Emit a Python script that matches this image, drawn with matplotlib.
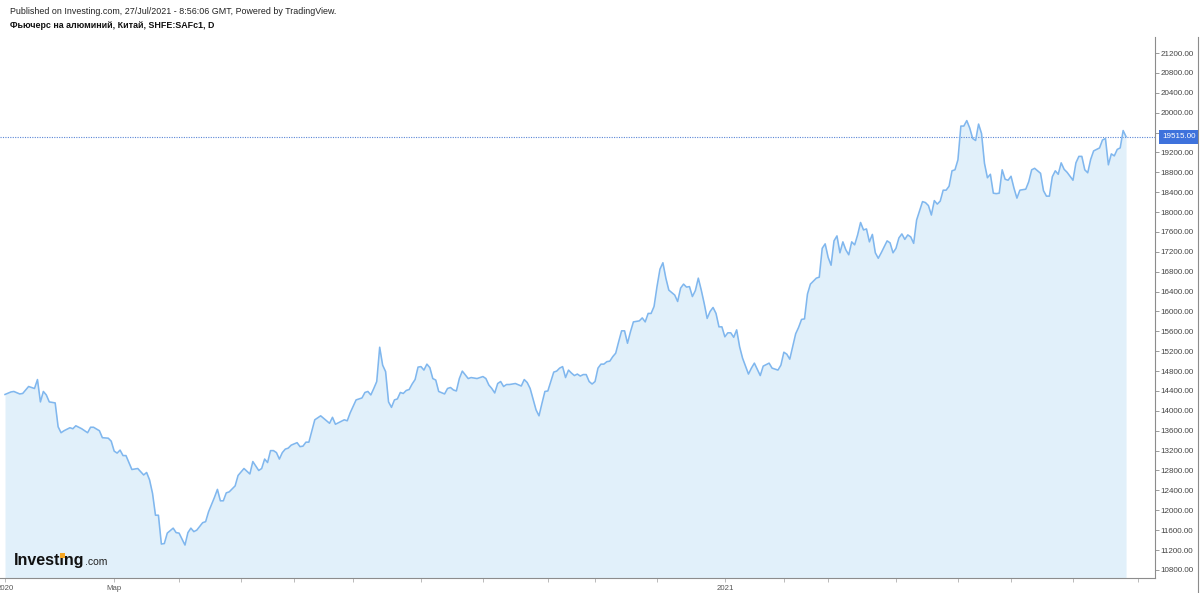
import numpy as np
import matplotlib
matplotlib.use("Agg")
import matplotlib.pyplot as plt
from matplotlib.lines import Line2D
from matplotlib.patches import Rectangle
from matplotlib.transforms import blended_transform_factory

plt.rcParams['font.family'] = ['Liberation Sans', 'DejaVu Sans']

# ---------------- data ----------------
header = "Published on Investing.com, 27/Jul/2021 - 8:56:06 GMT, Powered by TradingView."
title = "Фьючерс на алюминий, Китай, SHFE:SAFc1, D"

first_session = '2020-01-02'   # session 0
holidays = ['2020-01-01', '2020-01-24', '2020-01-27', '2020-01-28', '2020-01-29',
            '2020-01-30', '2020-01-31', '2020-04-06', '2020-05-01', '2020-05-04',
            '2020-05-05', '2020-06-25', '2020-06-26', '2020-10-01', '2020-10-02',
            '2020-10-05', '2020-10-06', '2020-10-07', '2020-10-08', '2021-01-01',
            '2021-02-11', '2021-02-12', '2021-02-15', '2021-02-16', '2021-02-17',
            '2021-04-05', '2021-05-03', '2021-05-04', '2021-05-05', '2021-06-14']

# trading-session number (since 2 Jan 2020) and close price
session = [-1, 1, 2, 4, 5, 7, 9, 10, 11, 12, 13, 14, 16, 17, 18, 19, 21, 22, 23, 25,
           27, 28, 29, 31, 32, 34, 35, 36, 37, 38, 39, 40, 42, 44, 46, 47, 48, 49, 50, 51,
           52, 53, 54, 56, 57, 58, 60, 61, 62, 63, 64, 66, 67, 68, 70, 71, 72, 73, 74, 75,
           77, 78, 80, 82, 83, 85, 86, 87, 88, 89, 90, 91, 92, 93, 94, 95, 96, 98, 99, 100,
           101, 102, 104, 106, 109, 110, 111, 114, 115, 116, 118, 120, 121, 122, 123, 124, 125, 126, 127, 128,
           129, 130, 131, 132, 133, 134, 135, 136, 137, 138, 139, 140, 141, 142, 143, 144, 145, 146, 148, 149,
           150, 151, 152, 153, 154, 156, 157,
           159, 161, 162, 163, 164, 165, 166, 167, 168, 169, 170, 172, 174, 175, 176, 177, 179, 180, 181, 182,
           183, 184, 185, 186, 187, 188, 189, 190, 191, 192, 193, 194, 195, 196, 197, 198, 199, 200, 201, 202,
           203, 204, 205, 206, 207, 208, 209, 210, 211, 212, 214, 215, 216, 217, 218, 219, 220, 221, 222, 223,
           224, 225, 226, 227, 228, 229, 230, 231, 232, 233, 234, 235, 236, 237, 238, 239, 240, 241, 242,
           243, 244, 245, 246, 247, 248, 249, 251, 252, 253, 255, 256, 258, 259, 261, 262, 263, 264, 265, 267,
           268, 269, 270, 271, 272, 274, 275, 276, 277, 278, 279, 280, 281, 282, 283, 284, 285, 286, 287, 288,
           289, 290, 291, 292, 293, 294, 295, 296, 298, 299, 300, 301, 302, 303, 304, 305, 306, 307, 308, 310,
           311, 312, 313, 314, 315, 316, 317, 318,
           319, 320, 321, 322, 323, 324, 325, 326, 327, 328, 329, 330, 331, 332, 333, 334, 335, 336, 337, 338,
           339, 340, 341, 342, 343, 345, 346, 347, 348, 350, 351, 352, 353, 354, 355, 356, 357, 358, 359, 361,
           362, 363, 364, 365, 366, 367, 368, 370, 371, 372, 373, 374, 375, 376, 377, 378, 379]

price = [14330, 14380, 14390, 14340, 14350, 14490, 14450, 14630, 14180, 14390, 14320, 14180, 14160, 13680, 13560, 13600, 13660, 13640, 13700, 13640,
         13560, 13670, 13670, 13600, 13460, 13450, 13390, 13190, 13150, 13210, 13100, 13100, 12820, 12840, 12710, 12760, 12610, 12340, 11900, 11900,
         11320, 11330, 11540, 11640, 11550, 11540, 11300, 11550, 11640, 11570, 11600, 11750, 11770, 11970, 12260, 12420, 12190, 12190, 12350, 12370,
         12490, 12700, 12840, 12730, 12980, 12800, 12840, 13030, 12960, 13200, 13200, 13160, 13030, 13160, 13230, 13250, 13310, 13360, 13280, 13290,
         13370, 13370, 13820, 13900, 13750, 13870, 13730, 13820, 13800, 13960, 14220, 14260, 14370, 14390, 14320, 14450, 14590, 15280, 14920, 14790,
         14180, 14070, 14220, 14240, 14370, 14350, 14410, 14430, 14540, 14630, 14880, 14890, 14820, 14940, 14870, 14650, 14620, 14390, 14340, 14450,
         14470, 14420, 14400, 14650, 14800, 14650, 14670,
         14650, 14690, 14650, 14520, 14450, 14360, 14550, 14590, 14490, 14530, 14530, 14550, 14500, 14630, 14570, 14450, 14020, 13900, 14150, 14390,
         14400, 14590, 14780, 14800, 14860, 14890, 14670, 14820, 14760, 14710, 14740, 14700, 14730, 14730, 14590, 14540, 14590, 14860, 14940, 14940,
         14990, 15000, 15090, 15160, 15390, 15610, 15610, 15360, 15590, 15790, 15810, 15870, 15790, 15960, 15960, 16100, 16500, 16850, 16980, 16670,
         16430, 16380, 16330, 16200, 16470, 16550, 16490, 16500, 16300, 16420, 16670, 16430, 16160, 15860, 16000, 16080, 15960, 15690, 15690,
         15490, 15570, 15570, 15480, 15630, 15290, 15060, 14740, 14860, 14960, 14710, 14900, 14960, 14860, 14820, 14920, 15180, 15140, 15040, 15550,
         15680, 15840, 15850, 16350, 16550, 16670, 16690, 17270, 17360, 17090, 16930, 17420, 17520, 17180, 17400, 17240, 17140, 17400, 17340, 17540,
         17790, 17640, 17660, 17400, 17550, 17180, 17070, 17180, 17420, 17380, 17180, 17270, 17480, 17560, 17450, 17540, 17500, 17370, 17840, 18210,
         18190, 18130, 17940, 18230, 18160, 18220, 18440, 18440,
         18520, 18830, 18850, 19050, 19730, 19730, 19840, 19690, 19480, 19440, 19770, 19580, 18980, 18690, 18760, 18380, 18370, 18380, 18850, 18660,
         18640, 18720, 18480, 18280, 18440, 18460, 18610, 18850, 18880, 18780, 18430, 18320, 18320, 18710, 18830, 18760, 18990, 18860, 18800, 18640,
         18990, 19120, 19120, 18850, 18790, 19060, 19230, 19290, 19450, 19480, 18950, 19170, 19130, 19260, 19290, 19640, 19515]

last_price = 19515.00
y_ticks = list(range(10800, 21201, 400))
month_ticks = ['2020-01-01', '2020-03-01', '2020-04-01', '2020-05-01', '2020-06-01',
               '2020-07-01', '2020-08-01', '2020-09-01', '2020-10-01', '2020-11-01',
               '2020-12-01', '2021-01-01', '2021-02-01', '2021-03-01', '2021-04-01',
               '2021-05-01', '2021-06-01', '2021-07-01', '2021-08-01']
month_labels = {'2020-01-01': '2020', '2020-03-01': 'Мар', '2021-01-01': '2021'}

# ---------------- figure ----------------
W, H = 1200, 593
fig = plt.figure(figsize=(W / 100, H / 100), dpi=100)
fig.patch.set_facecolor('white')

ax = fig.add_axes([0.0, 1 - 578 / H, 1155 / W, (578 - 37) / H])
ax.set_facecolor('white')

line_c = '#80b7ee'
fill_c = '#e1f0fa'
ymin, ymax = 10637, 21522
ax.fill_between(session, price, ymin, color=fill_c, lw=0, zorder=1)
ax.plot(session, price, color=line_c, lw=1.15, zorder=3, solid_joinstyle='round')
ax.axhline(last_price, color='#5a86d6', lw=0.8, ls=(0, (1, 1.2)), zorder=2)

ax.set_ylim(ymin, ymax)
ax.set_xlim(-2.7, 388.8)

# right price axis
ax.yaxis.tick_right()
ax.set_yticks(y_ticks)
ax.set_yticklabels([f"{v:.2f}" for v in y_ticks])
ax.tick_params(axis='y', direction='out', length=3, width=0.6, color='#8a8a8a',
               labelsize=5.8, labelcolor='#444444', pad=1)

# x axis: month ticks in trading-session units
tick_pos = [int(np.busday_count(first_session, d, holidays=holidays)) for d in month_ticks]
ax.set_xticks(tick_pos)
ax.set_xticklabels([month_labels.get(d, '') for d in month_ticks])
ax.tick_params(axis='x', direction='out', length=3, width=0.6, color='#b0b0b0',
               labelsize=5.6, labelcolor='#555555', pad=2)

for s in ['left', 'top']:
    ax.spines[s].set_visible(False)
for s in ['bottom', 'right']:
    ax.spines[s].set_color('#8c8c8c')
    ax.spines[s].set_linewidth(0.8)

# last price label
trans = blended_transform_factory(ax.transAxes, ax.transData)
ax.annotate(f"{last_price:.2f}", xy=(1.0, last_price), xycoords=trans,
            xytext=(5, 0), textcoords='offset points', ha='left', va='center',
            fontsize=5.8, color='white', annotation_clip=False, zorder=10,
            bbox=dict(boxstyle='square,pad=0.42', fc='#3e72dc', ec='none'))

# far-right border line
fig.add_artist(Line2D([1197.5 / W, 1197.5 / W], [0, 1 - 37 / H], transform=fig.transFigure,
                      color='#8c8c8c', lw=0.8))

# header texts
fig.text(10 / W, 1 - 11 / H, header, fontsize=6.4, color='#222222', va='center', ha='left')
fig.text(10 / W, 1 - 26 / H, title, fontsize=6.4, color='#111111', va='center', ha='left',
         fontweight='bold')

# Investing.com logo
fig.canvas.draw()
r = fig.canvas.get_renderer()
x0, yb = 14 / W, 1 - 565 / H
logo = fig.text(x0, yb, "Investing", fontsize=11.5, fontweight='bold', color='#111111',
                va='baseline', ha='left', zorder=20)
ext = logo.get_window_extent(renderer=r)
fig.text((ext.x1 + 0.3) / W, yb, ".com", fontsize=7.5, color='#222222', va='baseline',
         ha='left', zorder=20)
tmp1 = fig.text(x0, yb, "Invest", fontsize=11.5, fontweight='bold', va='baseline')
tmp2 = fig.text(x0, yb, "Investi", fontsize=11.5, fontweight='bold', va='baseline')
w1 = tmp1.get_window_extent(renderer=r).x1
w2 = tmp2.get_window_extent(renderer=r).x1
tmp1.remove(); tmp2.remove()
cx = (w1 + w2) / 2
fig.add_artist(Rectangle(((cx - 2.2) / W, (H - 558) / H), 4.4 / W, 4.6 / H,
                         transform=fig.transFigure, color='#f5a623', zorder=21, lw=0))

fig.savefig('out.png', dpi=100, facecolor='white')
